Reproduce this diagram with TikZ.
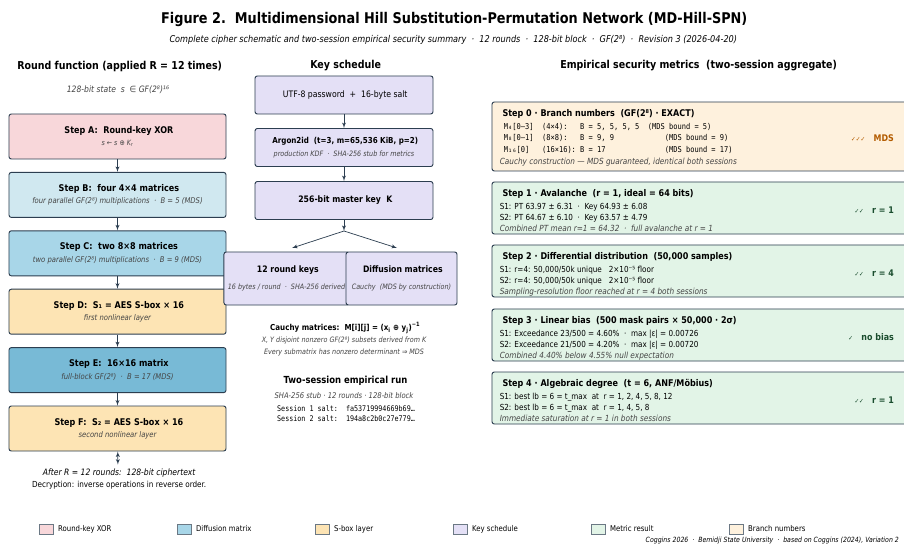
\documentclass[tikz,border=0pt]{standalone}
\usepackage{fontspec}
\setmainfont{DejaVu Sans}[FakeStretch=0.87]
\setmonofont{DejaVu Sans Mono}[FakeStretch=0.87]
\usepackage{tikz}
\usetikzlibrary{arrows,calc,shapes,positioning}

\definecolor{edgecol}{HTML}{2C3E50}
\definecolor{xorfill}{HTML}{F8D7DA}
\definecolor{difflight}{HTML}{D0E8F0}
\definecolor{diffmid}{HTML}{A8D6E8}
\definecolor{diffdark}{HTML}{78BAD6}
\definecolor{sboxfill}{HTML}{FDE4B4}
\definecolor{keyfill}{HTML}{E4E0F6}
\definecolor{metricfill}{HTML}{E2F4E7}
\definecolor{branchfill}{HTML}{FEF1DD}
\definecolor{subgray}{HTML}{444444}
\definecolor{mdsbrown}{HTML}{B35C00}
\definecolor{okgreen}{HTML}{1A4D2E}

\newcommand{\fsz}[2]{\fontsize{#1}{#2}\selectfont}

\begin{document}
\begin{tikzpicture}[
    x = 0.03cm, y = -0.03cm,
    on grid,
    node distance = 1.752cm
  ]
  \tikzstyle{stepbox} = [
    draw = edgecol, line width = 0.8pt,
    rounded corners = 2pt,
    align          = center,
    minimum width  = 6.51cm,
    minimum height = 1.35cm
  ]
  \tikzstyle{keybox} = [
    draw = edgecol, line width = 0.8pt, fill = keyfill,
    rounded corners = 2pt,
    align          = center,
    minimum width  = 5.34cm,
    minimum height = 1.14cm,
    node distance  = 1.575cm
  ]
  \tikzstyle{subbox} = [keybox,
    minimum width  = 3.33cm,
    minimum height = 1.59cm
  ]
  \tikzstyle{metric} = [
    draw = edgecol, line width = 0.8pt,
    rounded corners = 2pt,
    minimum width  = 12.78cm,
    minimum height = 1.56cm
  ]
  \tikzstyle{metrictext} = [anchor = north west, align = left, inner sep = 0pt,
    font = \fsz{7.1}{9.5}]
  \tikzstyle{verdict} = [anchor = east, font = \bfseries\fsz{7.8}{9}, text = okgreen]
  \tikzstyle{swatch} = [draw = edgecol!70, line width = 0.4pt,
    minimum width = 0.42cm, minimum height = 0.3cm, inner sep = 0pt]
  \tikzstyle{legtext} = [anchor = west, font = \fsz{6.8}{8}]
  \tikzstyle{arrow}  = [draw = edgecol, -latex', line width = 0.6pt]

  \fill [white] (0,0) rectangle (904,544);
  \useasboundingbox (0,0) rectangle (904,544);

  % title
  \node at (452,19) (title) {\bfseries\fsz{12.6}{15} Figure 2.\ \ Multidimensional Hill Substitution-Permutation Network (MD-Hill-SPN)};
  \node at (452,40) (subtitle) {\itshape\fsz{8}{9} Complete cipher schematic and two-session empirical security summary\ \ ·\ \ 12 rounds\ \ ·\ \ 128-bit block\ \ ·\ \ GF(2⁸)\ \ ·\ \ Revision 3 (2026-04-20)};

  % round function
  \node at (118,66) (roundhead) {\bfseries\fsz{9.3}{11} Round function (applied R = 12 times)};
  \node at (118,90) (state) {\itshape\fsz{7.5}{9}\color{subgray} 128-bit state\ \ s\ \ ∈ GF(2⁸)¹⁶};

  \node [stepbox, fill = xorfill] at (117.5,136.5) (stepA)
    {{\bfseries\fsz{7.9}{9} Step A:\ \ Round-key XOR}\\[-1.5pt]{\itshape\fsz{6.2}{7}\color{subgray} s ← s ⊕ K\textsubscript{r}}};
  \node [stepbox, fill = difflight, below of = stepA] (stepB)
    {{\bfseries\fsz{7.9}{9} Step B:\ \ four 4×4 matrices}\\[-1.5pt]{\itshape\fsz{6.7}{7}\color{subgray} four parallel GF(2⁸) multiplications\ \ ·\ \ B = 5 (MDS)}};
  \node [stepbox, fill = diffmid, below of = stepB] (stepC)
    {{\bfseries\fsz{7.9}{9} Step C:\ \ two 8×8 matrices}\\[-1.5pt]{\itshape\fsz{6.7}{7}\color{subgray} two parallel GF(2⁸) multiplications\ \ ·\ \ B = 9 (MDS)}};
  \node [stepbox, fill = sboxfill, below of = stepC] (stepD)
    {{\bfseries\fsz{7.9}{9} Step D:\ \ S₁ = AES S-box × 16}\\[-1.5pt]{\itshape\fsz{6.7}{7}\color{subgray} first nonlinear layer}};
  \node [stepbox, fill = diffdark, below of = stepD] (stepE)
    {{\bfseries\fsz{7.9}{9} Step E:\ \ 16×16 matrix}\\[-1.5pt]{\itshape\fsz{6.7}{7}\color{subgray} full-block GF(2⁸)\ \ ·\ \ B = 17 (MDS)}};
  \node [stepbox, fill = sboxfill, below of = stepE] (stepF)
    {{\bfseries\fsz{7.9}{9} Step F:\ \ S₂ = AES S-box × 16}\\[-1.5pt]{\itshape\fsz{6.7}{7}\color{subgray} second nonlinear layer}};

  \path [arrow] (stepA) -- (stepB);
  \path [arrow] (stepB) -- (stepC);
  \path [arrow] (stepC) -- (stepD);
  \path [arrow] (stepD) -- (stepE);
  \path [arrow] (stepE) -- (stepF);

  \node at (118,473) (after) {\itshape\fsz{7.5}{9} After R = 12 rounds:\ \ 128-bit ciphertext};
  \node at (118,485) (decrypt) {\fsz{7.1}{9} Decryption: inverse operations in reverse order.};
  \path [arrow, latex'-latex'] (stepF) -- (after);

  % key schedule
  \node at (344,66) (keyhead) {\bfseries\fsz{9.3}{11} Key schedule};
  \node [keybox] at (344,95) (pwd) {\fsz{7.6}{9} UTF-8 password\ \ +\ \ 16-byte salt};
  \node [keybox, below of = pwd] (argon)
    {{\bfseries\fsz{7}{9} Argon2id\ \ (t=3, m=65,536 KiB, p=2)}\\[-1pt]{\itshape\fsz{6.3}{7}\color{subgray} production KDF\ \ ·\ \ SHA-256 stub for metrics}};
  \node [keybox, below of = argon, node distance = 1.59cm] (master) {\bfseries\fsz{7.6}{9} 256-bit master key\ \ K};
  \coordinate (split) at (344,231);
  \coordinate (rkin) at (292,248);
  \coordinate (dmin) at (397,248);
  \node [subbox] at (286.5,278.5) (roundkeys)
    {{\bfseries\fsz{7.6}{9} 12 round keys}\\[3pt]{\itshape\fsz{6.3}{7}\color{subgray} 16 bytes / round\ \ ·\ \ SHA-256 derived}};
  \node [subbox] at (401.5,278.5) (diffmats)
    {{\bfseries\fsz{7.6}{9} Diffusion matrices}\\[3pt]{\itshape\fsz{6.3}{7}\color{subgray} Cauchy\ \ (MDS by construction)}};

  \path [arrow] (pwd) -- (argon);
  \path [arrow] (argon) -- (master);
  \path [arrow] (master) -- (split);
  \path [arrow] (split) -- (rkin);
  \path [arrow] (split) -- (dmin);

  \node at (344,328) (cauchy) {\bfseries\fsz{7}{8} Cauchy matrices:\ \ M[i][j] = (x\textsubscript{i} ⊕ y\textsubscript{j})\textsuperscript{−1}};
  \node at (344,340) (disjoint) {\itshape\fsz{6.3}{7}\color{subgray} X, Y disjoint nonzero GF(2⁸) subsets derived from K};
  \node at (344,352) (submat) {\itshape\fsz{6.3}{7}\color{subgray} Every submatrix has nonzero determinant ⇒ MDS};

  \node at (344,381) (runhead) {\bfseries\fsz{8.3}{10} Two-session empirical run};
  \node at (344,396) (runinfo) {\itshape\fsz{6.7}{8}\color{subgray} SHA-256 stub · 12 rounds · 128-bit block};
  \node at (344,408.5) (salt1) {\ttfamily\fsz{6.6}{7} Session 1 salt:~~fa53719994669b69…};
  \node at (344,418.5) (salt2) {\ttfamily\fsz{6.6}{7} Session 2 salt:~~194a8c2b0c27e779…};

  % metrics
  \node at (697,66) (metrichead) {\bfseries\fsz{9.3}{11} Empirical security metrics\ \ (two-session aggregate)};

  \node [metric, fill = branchfill, minimum height = 2.07cm] at (705,136.5) (step0) {};
  \node [metric, fill = metricfill] at (705,208) (step1) {};
  \node [metric, fill = metricfill] at (705,271) (step2) {};
  \node [metric, fill = metricfill] at (705,335) (step3) {};
  \node [metric, fill = metricfill] at (705,398) (step4) {};

  \node [metrictext, font = \fsz{7.1}{10}] at ([shift={(8,8)}]step0.north west) (step0txt) {%
    {\bfseries\fsz{7.9}{10} Step 0 · Branch numbers\ \ (GF(2⁸) · EXACT)}\\[0.5pt]
    {\ttfamily\fsz{6.9}{10} M₄[0–3]~~(4×4):~~~B~=~5,~5,~5,~5~~(MDS~bound~=~5)}\\
    {\ttfamily\fsz{6.9}{10} M₈[0–1]~~(8×8):~~~B~=~9,~9~~~~~~~~~~~~(MDS~bound~=~9)}\\
    {\ttfamily\fsz{6.9}{10} M₁₆[0]~~~(16×16):~B~=~17~~~~~~~~~~~~~~(MDS~bound~=~17)}\\
    {\itshape\fsz{7.2}{10}\color{subgray} Cauchy construction — MDS guaranteed, identical both sessions}};
  \node [metrictext] at ([shift={(8,8)}]step1.north west) (step1txt) {%
    {\bfseries\fsz{7.9}{9.5} Step 1 · Avalanche\ \ (r = 1, ideal = 64 bits)}\\[1pt]
    S1: PT 63.97 ± 6.31\ \ ·\ \ Key 64.93 ± 6.08\\
    S2: PT 64.67 ± 6.10\ \ ·\ \ Key 63.57 ± 4.79\\
    {\itshape\fsz{7.2}{9.5}\color{subgray} Combined PT mean r=1 = 64.32\ \ ·\ \ full avalanche at r = 1}};
  \node [metrictext] at ([shift={(8,8)}]step2.north west) (step2txt) {%
    {\bfseries\fsz{7.9}{9.5} Step 2 · Differential distribution\ \ (50,000 samples)}\\[1pt]
    S1: r=4: 50,000/50k unique\ \ \ 2×10⁻⁵ floor\\
    S2: r=4: 50,000/50k unique\ \ \ 2×10⁻⁵ floor\\
    {\itshape\fsz{7.2}{9.5}\color{subgray} Sampling-resolution floor reached at r = 4 both sessions}};
  \node [metrictext] at ([shift={(8,8)}]step3.north west) (step3txt) {%
    {\bfseries\fsz{7.9}{9.5} Step 3 · Linear bias\ \ (500 mask pairs × 50,000 · 2σ)}\\[1pt]
    S1: Exceedance 23/500 = 4.60\%\ \ ·\ \ max |ε| = 0.00726\\
    S2: Exceedance 21/500 = 4.20\%\ \ ·\ \ max |ε| = 0.00720\\
    {\itshape\fsz{7.2}{9.5}\color{subgray} Combined 4.40\% below 4.55\% null expectation}};
  \node [metrictext] at ([shift={(8,8)}]step4.north west) (step4txt) {%
    {\bfseries\fsz{7.9}{9.5} Step 4 · Algebraic degree\ \ (t = 6, ANF/Möbius)}\\[1pt]
    S1: best lb = 6 = t\_max\ \ at\ \ r = 1, 2, 4, 5, 8, 12\\
    S2: best lb = 6 = t\_max\ \ at\ \ r = 1, 4, 5, 8\\
    {\itshape\fsz{7.2}{9.5}\color{subgray} Immediate saturation at r = 1 in both sessions}};

  \node [verdict, text = mdsbrown] at (898,138) (v0) {{\mdseries\fsz{5.5}{7}✓✓✓}\ \ \ MDS};
  \node [verdict] at (898,210) (v1) {{\mdseries\fsz{5.5}{7}✓✓}\ \ \ r = 1};
  \node [verdict] at (898,273) (v2) {{\mdseries\fsz{5.5}{7}✓✓}\ \ \ r = 4};
  \node [verdict] at (898,337) (v3) {{\mdseries\fsz{5.5}{7}✓}\ \ \ no bias};
  \node [verdict] at (898,400) (v4) {{\mdseries\fsz{5.5}{7}✓✓}\ \ \ r = 1};

  % legend
  \node [swatch, fill = xorfill]    at (46,529)  (lxor)    {};
  \node [swatch, fill = diffmid]    at (184,529) (ldiff)   {};
  \node [swatch, fill = sboxfill]   at (322,529) (lsbox)   {};
  \node [swatch, fill = keyfill]    at (460,529) (lkey)    {};
  \node [swatch, fill = metricfill] at (598,529) (lmetric) {};
  \node [swatch, fill = branchfill] at (736,529) (lbranch) {};
  \node [legtext] at (54,529)  {Round-key XOR};
  \node [legtext] at (192,529) {Diffusion matrix};
  \node [legtext] at (330,529) {S-box layer};
  \node [legtext] at (468,529) {Key schedule};
  \node [legtext] at (606,529) {Metric result};
  \node [legtext] at (744,529) {Branch numbers};

  \node [anchor = east] at (903,541) (footer) {\itshape\fsz{6.1}{7} Coggins 2026\ \ ·\ \ Bemidji State University\ \ ·\ \ based on Coggins (2024), Variation 2};
\end{tikzpicture}
\end{document}
